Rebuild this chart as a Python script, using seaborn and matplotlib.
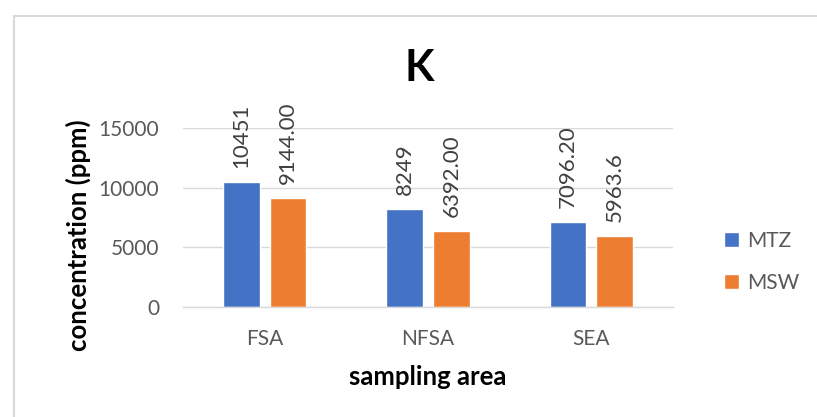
import matplotlib
matplotlib.use("Agg")
import matplotlib.pyplot as plt
from matplotlib.lines import Line2D
import seaborn as sns
import pandas as pd

areas = ["FSA", "NFSA", "SEA"]
mtz = [10451, 8249, 7096.20]
msw = [9144.00, 6392.00, 5963.6]
mtz_labels = ["10451", "8249", "7096.20"]
msw_labels = ["9144.00", "6392.00", "5963.6"]
series = ["MTZ", "MSW"]
yticks = [0, 5000, 10000, 15000]

df = pd.DataFrame({
    "area": areas * 2,
    "value": mtz + msw,
    "series": [series[0]] * 3 + [series[1]] * 3,
})

sns.set_theme(style="white")
plt.rcParams["font.family"] = ["Lato", "DejaVu Sans"]

W, H = 817, 417
fig = plt.figure(figsize=(W / 100, H / 100), dpi=100)
ax = fig.add_axes([183 / W, (H - 307) / H, 490 / W, 179 / H])

sns.barplot(data=df, x="area", y="value", hue="series", hue_order=series,
            palette=["#4472C4", "#ED7D31"], width=0.572, gap=0.22,
            saturation=1, ax=ax, legend=True)

for cont, labs in zip(ax.containers, [mtz_labels, msw_labels]):
    ax.bar_label(cont, labels=labs, rotation=90, padding=10,
                 fontsize=16, color="#404040")

ax.set_ylim(0, 15000)
ax.set_xlim(-0.5, 2.5)
ax.set_yticks(yticks)
ax.set_yticklabels([str(t) for t in yticks])
ax.yaxis.grid(True, color="#D9D9D9", linewidth=1)
ax.set_axisbelow(True)
for s in ["top", "right", "left"]:
    ax.spines[s].set_visible(False)
ax.spines["bottom"].set_color("#D9D9D9")
ax.spines["bottom"].set_linewidth(1)
ax.tick_params(axis="both", length=0, labelsize=15, colors="#595959")
ax.tick_params(axis="y", pad=17)
ax.tick_params(axis="x", pad=16)
ax.set_xlabel("")
ax.set_ylabel("")

fig.text(428 / W, 1 - 377 / H, "sampling area", ha="center", va="center",
         fontsize=18.5, fontweight="bold", color="#000000")
fig.text(78 / W, 1 - 235 / H, "concentration (ppm)", ha="center", va="center",
         rotation=90, fontsize=18.5, fontweight="bold", color="#000000")
fig.text(419 / W, 1 - 68 / H, "K", ha="center", va="center",
         fontsize=31, fontweight="bold", color="#000000")

leg = ax.legend(loc="center left", bbox_to_anchor=(714 / W, 1 - 262 / H),
                bbox_transform=fig.transFigure, frameon=False, fontsize=15,
                handlelength=0.72, handleheight=0.72, handletextpad=0.35,
                labelspacing=1.05, borderpad=0)
for t in leg.get_texts():
    t.set_color("#595959")

fig.add_artist(Line2D([14 / W, 1.0], [1 - 16 / H, 1 - 16 / H],
                      transform=fig.transFigure, color="#D9D9D9", linewidth=1.5))
fig.add_artist(Line2D([14 / W, 14 / W], [1 - 16 / H, 0.0],
                      transform=fig.transFigure, color="#D9D9D9", linewidth=1.5))

fig.savefig("out.png", dpi=100)
